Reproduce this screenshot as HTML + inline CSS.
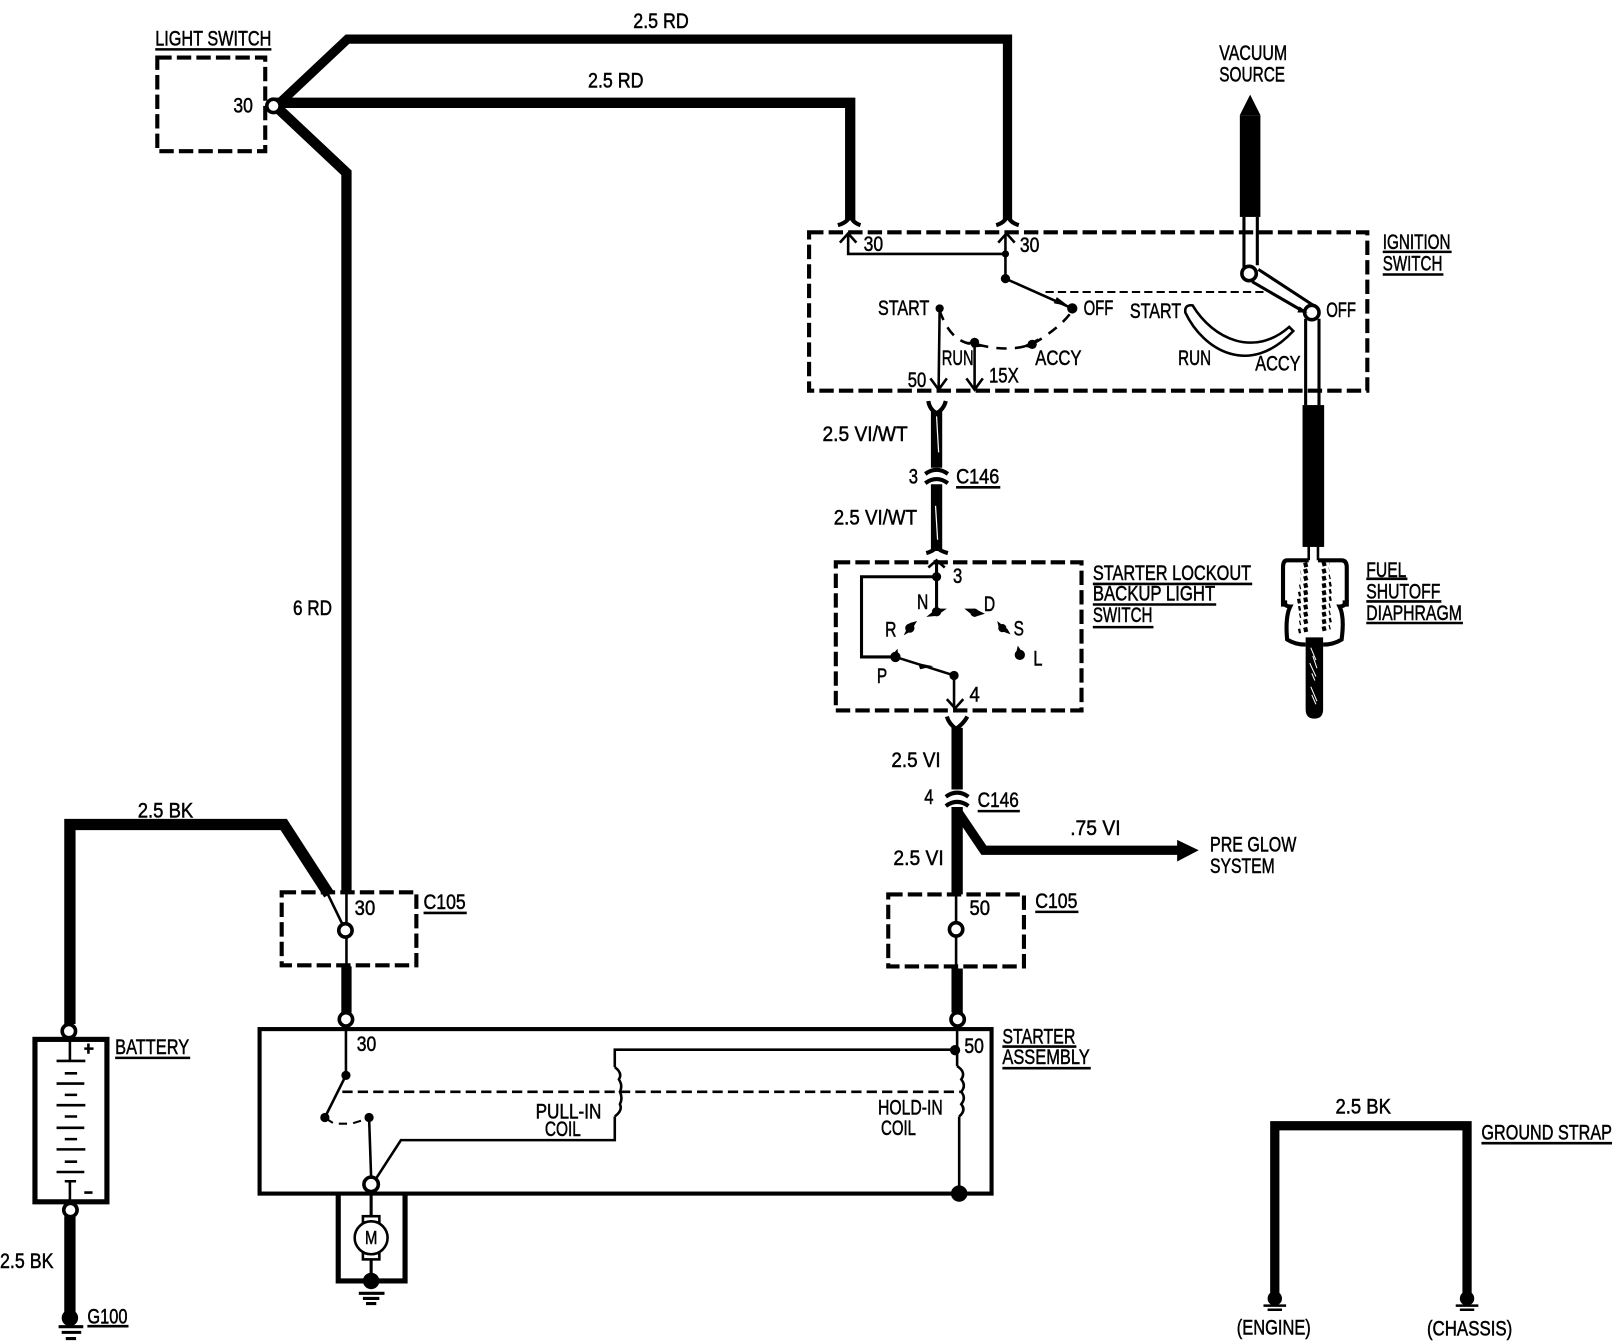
<!DOCTYPE html>
<html><head><meta charset="utf-8"><title>Starter wiring diagram</title>
<style>
html,body{margin:0;padding:0;background:#fff}
svg{display:block}
text{font-family:"Liberation Sans",sans-serif;font-size:21px;fill:#000;stroke:#000;stroke-width:.5;transform:translateY(-.8px)}
.w{fill:none;stroke:#000;stroke-linejoin:miter}
.d{fill:none;stroke:#000;stroke-width:4;stroke-dasharray:14 5}
.l{fill:none;stroke:#000;stroke-width:2.5}
.c{fill:#fff;stroke:#000;stroke-width:3.5}
.u{stroke:#000;stroke-width:2.5;fill:none}
</style></head><body>
<svg width="1612" height="1344" viewBox="0 0 1568 1307.3" xmlns="http://www.w3.org/2000/svg">
<rect width="1568" height="1308" fill="#fff"/>

<!-- thick main wires -->
<path class="w" stroke-width="9" d="M268 104L338 38H980V214"/>
<path class="w" stroke-width="10" d="M268 100H827V214"/>
<path class="w" stroke-width="10" d="M270 105L337 168V868"/>
<path class="w" stroke-width="11" d="M68 996V802H276L320 870"/>
<path class="l" d="M318 868L336 905M337 868V985"/>
<path class="w" stroke-width="10" d="M337 940V985"/>
<path class="w" stroke-width="11" d="M68 1183V1284"/>
<path class="w" stroke-width="9" d="M1240 1262V1095H1427V1262"/>
<path class="w" stroke-width="11" d="M911 400V455M911 471V536"/>
<path d="M911 405L913 440M910 492L912 525" stroke="#fff" stroke-width="1.2" fill="none"/>
<path class="w" stroke-width="11" d="M931 708V768M931 785V870M931 942V985"/>
<path class="l" d="M930 870V942"/>
<path class="w" stroke-width="9" d="M932 790L957 827H1146"/>
<path d="M1145 817L1166 827L1145 838Z"/>

<!-- connector marks -->
<path class="l" style="stroke-width:4" d="M900 461Q911 453 922 461M900 470Q911 462 922 470M920 775Q931 767 942 775M920 784Q931 776 942 784"/>
<path class="l" style="stroke-width:4" d="M815 219Q826 216 827 208Q828 216 837 219M969 219Q979 216 980 208Q981 216 991 219M901 538Q911 535 911 530Q911 535 922 538"/>
<path class="l" style="stroke-width:4" d="M903 390Q904 398 911 402Q918 398 920 390M921 697Q923 704 930 709Q937 704 941 697"/>

<!-- light switch -->
<rect class="d" x="153" y="56" width="105" height="91"/>
<circle class="c" cx="266" cy="103" r="6.500"/>

<!-- ignition switch -->
<rect class="d" x="787" y="226" width="543" height="154"/>
<path class="l" d="M825 228V247H978M978 228V271L1043 300M817 236L825 227L833 236M971 236L979 227L987 236"/>
<circle cx="978" cy="247" r="3.500"/><circle cx="978" cy="271" r="4.500"/><circle cx="1043" cy="300" r="5"/>
<circle cx="914" cy="300" r="4"/><circle cx="948" cy="333" r="4.500"/><circle cx="1004" cy="335" r="4.500"/>
<path d="M1028 289L1040 298L1025 295Z"/>
<path d="M942 332L958 337L946 338Z"/><path d="M994 337L1010 329L1006 339Z"/>
<path class="l" d="M914 300L913 378M948 333V378M905 368L913 379L921 368M940 368L948 379L956 368"/>
<path d="M914 302Q925 335 950 335Q990 345 1012 330Q1035 315 1043 302" fill="none" stroke="#000" stroke-width="2.500" stroke-dasharray="10 8"/>
<path d="M1017 284H1232" fill="none" stroke="#000" stroke-width="2" stroke-dasharray="8 4"/>

<!-- vacuum lever -->
<path d="M1216 92L1226 112H1206Z"/>
<rect x="1206" y="112" width="20" height="99"/>
<path class="l" style="stroke-width:3" d="M1210 211V260M1223 211V258M1224 262L1279 298M1218 274L1268 303M1270 310V394M1283 310V394"/>
<circle class="c" cx="1215" cy="266" r="7"/>
<circle class="c" cx="1276" cy="304" r="7"/>
<path d="M1264 298L1272 304L1262 304Z"/>
<rect x="1267" y="394" width="21" height="138"/>
<path class="l" d="M1160 297Q1152 296 1153 304C1170 340 1215 368 1258 322L1254 318C1220 348 1180 330 1160 297Z"/>

<!-- fuel shutoff -->
<path class="l" d="M1273 532V545M1282 532V545"/>
<path class="l" style="stroke-width:4" d="M1273 545H1252Q1248 545 1248 552V585Q1250 590 1255 590Q1250 600 1252 622Q1260 627 1270 627M1282 545H1305Q1310 545 1310 552V585Q1308 590 1303 590Q1308 600 1305 622Q1297 627 1287 627"/>
<path fill="#000" d="M1246 584h6v6h-6zM1306 584h6v6h-6z"/>
<path fill="none" stroke="#000" stroke-width="4.500" stroke-dasharray="4 3" d="M1272 549l-4 1M1272 555l-7 2M1272 562l-7 2M1272 569l-8 2M1272 576l-9 2M1272 583l-10 2M1272 590l-9 2M1272 597l-8 2M1272 604l-8 2M1272 612l-9 2M1286 549l7 -2M1286 556l7 -2M1286 563l8 -2M1286 570l9 -2M1286 577l9 -2M1286 584l9 -2M1286 591l8 -2M1286 598l8 -2M1286 605l9 -2M1286 612l8 -2"/>
<path d="M1270 620H1287V690Q1287 699 1278.500 699Q1270 699 1270 690Z"/>
<path d="M1275 630L1280 642M1277 638L1281 650M1274 645L1280 658M1276 655L1279 662M1275 668L1281 682M1276 676L1280 685" stroke="#fff" stroke-width="1" fill="none"/>

<!-- starter lockout -->
<rect class="d" x="813" y="547" width="239" height="144"/>
<path class="l" style="stroke-width:3" d="M911 545V595M911 561H838V639H871"/>
<path class="l" d="M871 639L928 657V689M903 552L911 545L919 552M921 680L929 689L937 680"/>
<circle cx="911" cy="561" r="4.500"/><circle cx="911" cy="595" r="4.500"/><circle cx="885" cy="611" r="4.500"/>
<circle cx="948" cy="596" r="4"/><circle cx="975" cy="611" r="4"/><circle cx="992" cy="637" r="5"/>
<circle cx="871" cy="639" r="5"/><circle cx="928" cy="657" r="4.500"/>
<path d="M901 600L911 592L921 592L911 599Z"/><path d="M879 618L885 606L892 604L886 614Z"/><path d="M938 592H948L958 597L948 600Z"/><path d="M970 604L980 612L983 617L972 613Z"/><path d="M990 628L996 637L988 637Z"/><path d="M868 637L873 631L874 640Z"/>
<path d="M893 645L908 648L895 651Z"/>

<!-- C105 boxes -->
<rect class="d" x="274" y="868" width="131" height="71"/>
<rect class="d" x="864" y="870" width="132" height="70"/>
<circle class="c" cx="336" cy="905" r="6.500"/>
<circle class="c" cx="930" cy="904" r="6.500"/>

<!-- battery -->
<rect x="34" y="1011" width="70" height="158" fill="none" stroke="#000" stroke-width="5"/>
<circle class="c" cx="67" cy="1003" r="6.500"/>
<circle class="c" cx="68.500" cy="1177" r="6.500"/>
<path class="l" d="M68 1011V1032M55 1032H83M68 1149V1170M63 1149H74"/>
<path class="l" d="M63 1044H75M55 1054H82M63 1065H75M55 1075H83M63 1086H75M55 1097H82M63 1108H75M55 1118H83M63 1130H75M55 1140H82"/>
<path class="l" d="M82 1020H91M86 1015V1025M82 1160H90"/>
<circle cx="68" cy="1282" r="8"/>
<path class="l" style="stroke-width:3" d="M57 1290.500H81M60 1296H79M64 1302H74"/>

<!-- starter assembly -->
<rect x="252.500" y="1001" width="712" height="160" fill="none" stroke="#000" stroke-width="4"/>
<circle class="c" cx="336.500" cy="991.500" r="6.500"/>
<circle class="c" cx="931.500" cy="991.500" r="6.500"/>
<path class="l" d="M336.500 998V1046L316 1087M359 1087L361 1145M366 1146L390 1109H598V1086M598 1038V1021H929M931 998V1037M933 1086V1160"/>
<path class="l" d="M598 1038Q606 1044 602 1050Q606 1056 603 1062Q606 1068 603 1074Q606 1080 598 1086M931 1037Q940 1043 935 1050Q940 1056 935 1062Q940 1068 935 1074Q940 1080 933 1086"/>
<path d="M333 1062H936" fill="none" stroke="#000" stroke-width="2.500" stroke-dasharray="10 5"/>
<path d="M317 1088L325 1093H342L358 1088" fill="none" stroke="#000" stroke-width="2" stroke-dasharray="8 6"/>
<circle cx="336.500" cy="1046" r="4.500"/><circle cx="316" cy="1087" r="4.500"/><circle cx="359" cy="1087" r="4.500"/>
<circle cx="929" cy="1021.500" r="5"/><circle cx="933" cy="1161" r="8"/>
<circle class="c" cx="361" cy="1152" r="7"/>

<!-- motor -->
<path fill="none" stroke="#000" stroke-width="5" d="M329 1162V1246H394V1162"/>
<path class="l" style="stroke-width:3" d="M361 1159V1184M361 1224V1246"/>
<rect x="353" y="1183" width="16" height="6" fill="#fff" stroke="#000" stroke-width="2.500"/>
<rect x="353" y="1219" width="16" height="6" fill="#fff" stroke="#000" stroke-width="2.500"/>
<ellipse cx="361" cy="1204" rx="16" ry="16" fill="#fff" stroke="#000" stroke-width="2.500"/>
<circle cx="361" cy="1246" r="8"/>
<path class="l" style="stroke-width:3" d="M349 1258H374M353 1263H369M356 1268H366"/>

<!-- ground strap ends -->
<circle cx="1240" cy="1263" r="7"/><circle cx="1427" cy="1263" r="7"/>
<path class="l" d="M1229 1270H1251M1233 1274H1247M1416 1270H1438M1420 1274H1434"/>

<!-- labels -->
<text x="616" y="28" textLength="54" lengthAdjust="spacingAndGlyphs">2.5 RD</text>
<text x="572" y="86" textLength="54" lengthAdjust="spacingAndGlyphs">2.5 RD</text>
<text x="151" y="45" textLength="113" lengthAdjust="spacingAndGlyphs">LIGHT SWITCH</text><path class="u" d="M151 48H264"/>
<text x="227" y="110" textLength="19" lengthAdjust="spacingAndGlyphs">30</text>
<text x="1186" y="59" textLength="66" lengthAdjust="spacingAndGlyphs">VACUUM</text>
<text x="1186" y="80" textLength="64" lengthAdjust="spacingAndGlyphs">SOURCE</text>
<text x="840" y="245" textLength="19" lengthAdjust="spacingAndGlyphs">30</text>
<text x="992" y="246" textLength="19" lengthAdjust="spacingAndGlyphs">30</text>
<text x="1345" y="243" textLength="66" lengthAdjust="spacingAndGlyphs">IGNITION</text><path class="u" d="M1345 245H1412"/>
<text x="1345" y="264" textLength="58" lengthAdjust="spacingAndGlyphs">SWITCH</text><path class="u" d="M1345 267H1404"/>
<text x="854" y="307" textLength="50" lengthAdjust="spacingAndGlyphs">START</text>
<text x="1054" y="307" textLength="29" lengthAdjust="spacingAndGlyphs">OFF</text>
<text x="1099" y="310" textLength="50" lengthAdjust="spacingAndGlyphs">START</text>
<text x="1290" y="309" textLength="29" lengthAdjust="spacingAndGlyphs">OFF</text>
<text x="916" y="356" textLength="31" lengthAdjust="spacingAndGlyphs">RUN</text>
<text x="1007" y="356" textLength="45" lengthAdjust="spacingAndGlyphs">ACCY</text>
<text x="1146" y="356" textLength="32" lengthAdjust="spacingAndGlyphs">RUN</text>
<text x="1221" y="361" textLength="44" lengthAdjust="spacingAndGlyphs">ACCY</text>
<text x="962" y="373" textLength="29" lengthAdjust="spacingAndGlyphs">15X</text>
<text x="883" y="377" textLength="18" lengthAdjust="spacingAndGlyphs">50</text>
<text x="800" y="430" textLength="83" lengthAdjust="spacingAndGlyphs">2.5 VI/WT</text>
<text x="811" y="511" textLength="81" lengthAdjust="spacingAndGlyphs">2.5 VI/WT</text>
<text x="884" y="471" textLength="9" lengthAdjust="spacingAndGlyphs">3</text>
<text x="930" y="471" textLength="42" lengthAdjust="spacingAndGlyphs">C146</text><path class="u" d="M930 474H973"/>
<text x="285" y="599" textLength="38" lengthAdjust="spacingAndGlyphs">6 RD</text>
<text x="1063" y="565" textLength="154" lengthAdjust="spacingAndGlyphs">STARTER LOCKOUT</text><path class="u" d="M1063 568H1218"/>
<text x="1063" y="585" textLength="119" lengthAdjust="spacingAndGlyphs">BACKUP LIGHT</text><path class="u" d="M1063 588H1183"/>
<text x="1063" y="606" textLength="58" lengthAdjust="spacingAndGlyphs">SWITCH</text><path class="u" d="M1063 610H1122"/>
<text x="1329" y="562" textLength="39" lengthAdjust="spacingAndGlyphs">FUEL</text><path class="u" d="M1329 563H1369"/>
<text x="1329" y="583" textLength="72" lengthAdjust="spacingAndGlyphs">SHUTOFF</text><path class="u" d="M1329 585H1402"/>
<text x="1329" y="604" textLength="93" lengthAdjust="spacingAndGlyphs">DIAPHRAGM</text><path class="u" d="M1329 606H1423"/>
<text x="927" y="568" textLength="9" lengthAdjust="spacingAndGlyphs">3</text>
<text x="892" y="593" textLength="11" lengthAdjust="spacingAndGlyphs">N</text>
<text x="957" y="595" textLength="11" lengthAdjust="spacingAndGlyphs">D</text>
<text x="861" y="620" textLength="11" lengthAdjust="spacingAndGlyphs">R</text>
<text x="986" y="619" textLength="10" lengthAdjust="spacingAndGlyphs">S</text>
<text x="1005" y="648" textLength="9" lengthAdjust="spacingAndGlyphs">L</text>
<text x="853" y="665" textLength="10" lengthAdjust="spacingAndGlyphs">P</text>
<text x="943" y="683" textLength="10" lengthAdjust="spacingAndGlyphs">4</text>
<text x="867" y="747" textLength="48" lengthAdjust="spacingAndGlyphs">2.5 VI</text>
<text x="899" y="783" textLength="9" lengthAdjust="spacingAndGlyphs">4</text>
<text x="951" y="786" textLength="40" lengthAdjust="spacingAndGlyphs">C146</text><path class="u" d="M951 789H992"/>
<text x="1041" y="813" textLength="49" lengthAdjust="spacingAndGlyphs">.75 VI</text>
<text x="1177" y="829" textLength="84" lengthAdjust="spacingAndGlyphs">PRE GLOW</text>
<text x="1177" y="850" textLength="63" lengthAdjust="spacingAndGlyphs">SYSTEM</text>
<text x="869" y="842" textLength="49" lengthAdjust="spacingAndGlyphs">2.5 VI</text>
<text x="134" y="796" textLength="54" lengthAdjust="spacingAndGlyphs">2.5 BK</text>
<text x="412" y="885" textLength="41" lengthAdjust="spacingAndGlyphs">C105</text><path class="u" d="M412 888H454"/>
<text x="1007" y="884" textLength="41" lengthAdjust="spacingAndGlyphs">C105</text><path class="u" d="M1007 887H1049"/>
<text x="345" y="891" textLength="20" lengthAdjust="spacingAndGlyphs">30</text>
<text x="943" y="891" textLength="20" lengthAdjust="spacingAndGlyphs">50</text>
<text x="975" y="1016" textLength="71" lengthAdjust="spacingAndGlyphs">STARTER</text><path class="u" d="M975 1018H1047"/>
<text x="975" y="1036" textLength="85" lengthAdjust="spacingAndGlyphs">ASSEMBLY</text><path class="u" d="M975 1039H1061"/>
<text x="347" y="1023" textLength="19" lengthAdjust="spacingAndGlyphs">30</text>
<text x="938" y="1025" textLength="19" lengthAdjust="spacingAndGlyphs">50</text>
<text x="112" y="1026" textLength="72" lengthAdjust="spacingAndGlyphs">BATTERY</text><path class="u" d="M112 1029H185"/>
<text x="521" y="1089" textLength="64" lengthAdjust="spacingAndGlyphs">PULL-IN</text>
<text x="530" y="1106" textLength="35" lengthAdjust="spacingAndGlyphs">COIL</text>
<text x="854" y="1085" textLength="63" lengthAdjust="spacingAndGlyphs">HOLD-IN</text>
<text x="857" y="1105" textLength="34" lengthAdjust="spacingAndGlyphs">COIL</text>
<text x="1299" y="1084" textLength="54" lengthAdjust="spacingAndGlyphs">2.5 BK</text>
<text x="1441" y="1109" textLength="127" lengthAdjust="spacingAndGlyphs">GROUND STRAP</text><path class="u" d="M1441 1112H1568"/>
<text x="0" y="1234" textLength="52" lengthAdjust="spacingAndGlyphs">2.5 BK</text>
<text x="85" y="1288" textLength="39" lengthAdjust="spacingAndGlyphs">G100</text><path class="u" d="M85 1290H125"/>
<text x="1203" y="1299" textLength="72" lengthAdjust="spacingAndGlyphs">(ENGINE)</text>
<text x="1388" y="1300" textLength="83" lengthAdjust="spacingAndGlyphs">(CHASSIS)</text>
<text x="355" y="1211" textLength="12" lengthAdjust="spacingAndGlyphs" style="font-size:18px">M</text>
</svg>
</body></html>
